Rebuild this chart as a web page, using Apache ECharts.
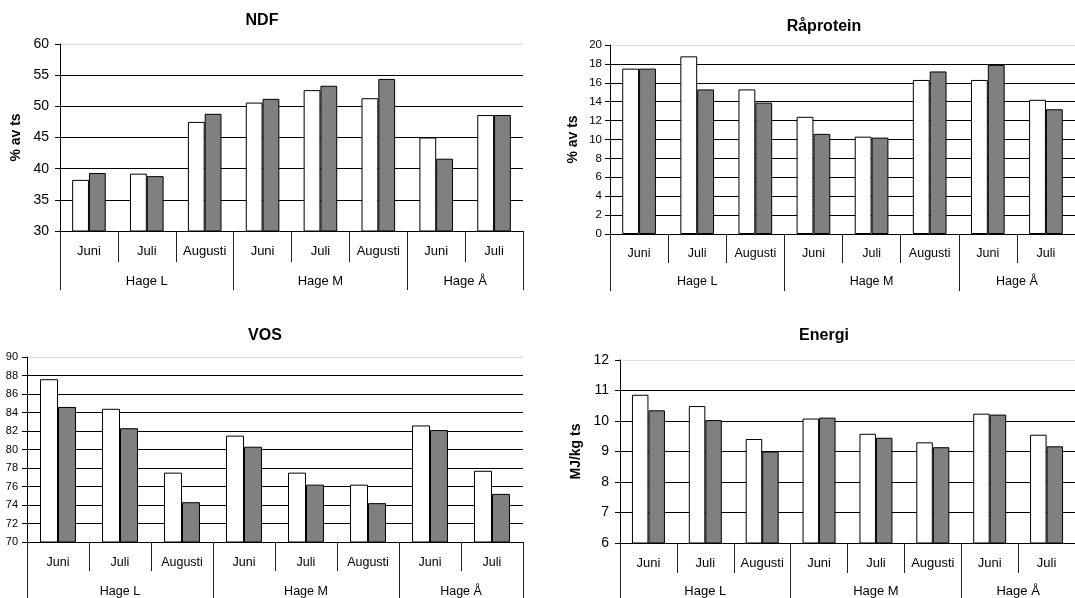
<!DOCTYPE html>
<html>
<head>
<meta charset="utf-8">
<script src="https://cdn.jsdelivr.net/npm/echarts@6/dist/echarts.min.js"></script>
<style>html,body{margin:0;padding:0;background:#fff}#c{width:1075px;height:598px}</style>
</head>
<body>
<div id="c"></div>
<script>
const categories = ['Juni', 'Juli', 'Augusti', 'Juni', 'Juli', 'Augusti', 'Juni', 'Juli'];
const groups = ['Hage L', 'Hage M', 'Hage Å'];
const groupSizes = [3, 3, 2];

const ndfWhite = [38.2, 39.2, 47.5, 50.6, 52.6, 51.3, 45.0, 48.6];
const ndfGrey  = [39.3, 38.8, 48.8, 51.2, 53.3, 54.4, 41.6, 48.6];
const ndfTicks = [30, 35, 40, 45, 50, 55, 60];

const raproteinWhite = [17.5, 18.8, 15.3, 12.4, 10.3, 16.3, 16.3, 14.2];
const raproteinGrey  = [17.5, 15.3, 13.9, 10.6, 10.2, 17.2, 17.9, 13.2];
const raproteinTicks = [0, 2, 4, 6, 8, 10, 12, 14, 16, 18, 20];

const vosWhite = [87.6, 84.4, 77.5, 81.5, 77.5, 76.2, 82.6, 77.7];
const vosGrey  = [84.6, 82.3, 74.3, 80.3, 76.2, 74.2, 82.1, 75.2];
const vosTicks = [70, 72, 74, 76, 78, 80, 82, 84, 86, 88, 90];

const energiWhite = [10.86, 10.49, 9.41, 10.08, 9.58, 9.30, 10.24, 9.55];
const energiGrey  = [10.35, 10.03, 9.00, 10.11, 9.45, 9.14, 10.21, 9.17];
const energiTicks = [6, 7, 8, 9, 10, 11, 12];

const FONT = '"Liberation Sans", Arial, sans-serif';

// group boundaries and centres derived from the group sizes
const groupBounds = [0];
groupSizes.forEach(s => groupBounds.push(groupBounds[groupBounds.length - 1] + s));
const groupCenters = groupSizes.map((s, i) => groupBounds[i] + s / 2);

const panels = [
  {title: 'NDF', tx: 262, ty: 21, grid: {left: 60, top: 44, width: 463, height: 187},
   ticks: ndfTicks, white: ndfWhite, grey: ndfGrey, name: '% av ts', nameGap: 37,
   yFont: 14, yMargin: 11, catFont: 13, catMargin: 14, grpMargin: 44, catTick: 31, grpTick: 59},
  {title: 'Råprotein', tx: 824, ty: 27, grid: {left: 610, top: 45, width: 474, height: 189},
   ticks: raproteinTicks, white: raproteinWhite, grey: raproteinGrey, name: '% av ts', nameGap: 30,
   yFont: 11.5, yMargin: 8, catFont: 12.5, catMargin: 13, grpMargin: 41, catTick: 29, grpTick: 57},
  {title: 'VOS', tx: 265, ty: 336, grid: {left: 27, top: 357, width: 496, height: 189},
   ticks: vosTicks, white: vosWhite, grey: vosGrey, name: '', nameGap: 30,
   yFont: 11, yMargin: 9, catFont: 12.5, catMargin: 14, grpMargin: 43, catTick: 29, grpTick: 60},
  {title: 'Energi', tx: 824, ty: 336, grid: {left: 620, top: 360, width: 464, height: 185},
   ticks: energiTicks, white: energiWhite, grey: energiGrey, name: 'MJ/kg ts', nameGap: 37,
   yFont: 14, yMargin: 11, catFont: 13, catMargin: 14, grpMargin: 42, catTick: 30, grpTick: 60}
];

const option = {
  animation: false,
  backgroundColor: '#fff',
  textStyle: {fontFamily: FONT},
  grid: [], xAxis: [], yAxis: [], series: [], graphic: []
};

panels.forEach((p, i) => {
  option.grid.push(Object.assign({containLabel: false}, p.grid));
  const t = p.ticks;
  option.xAxis.push({
    type: 'category', gridIndex: i, data: categories, position: 'bottom',
    axisLine: {show: true, lineStyle: {color: '#000', width: 1}},
    axisTick: {show: true, length: p.catTick, lineStyle: {color: '#222'}},
    axisLabel: {interval: 0, color: '#000', fontSize: p.catFont, margin: p.catMargin, fontFamily: FONT},
    splitLine: {show: false}
  });
  option.xAxis.push({
    type: 'value', gridIndex: i, min: 0, max: categories.length, position: 'bottom', offset: 0,
    axisLine: {show: false},
    axisTick: {show: true, length: p.grpTick, customValues: groupBounds, lineStyle: {color: '#222'}},
    axisLabel: {show: true, customValues: groupCenters, color: '#000', fontSize: p.catFont,
      margin: p.grpMargin, fontFamily: FONT,
      formatter: v => groups[groupCenters.indexOf(v)] || ''},
    splitLine: {show: false}
  });
  option.yAxis.push({
    type: 'value', gridIndex: i, min: t[0], max: t[t.length - 1], interval: t[1] - t[0],
    name: p.name, nameLocation: 'middle', nameGap: p.nameGap,
    nameTextStyle: {fontWeight: 'bold', fontSize: 14, color: '#000', fontFamily: FONT},
    axisLine: {show: true, lineStyle: {color: '#000', width: 1}},
    axisTick: {show: true, length: 5, lineStyle: {color: '#000'}},
    axisLabel: {color: '#000', fontSize: p.yFont, margin: p.yMargin, fontFamily: FONT},
    splitLine: {show: true, lineStyle: {width: 1,
      color: t.map((v, k) => k === t.length - 1 ? '#dcdcdc' : '#000')}}
  });
  const common = {type: 'bar', xAxisIndex: i * 2, yAxisIndex: i, barGap: '0%', barCategoryGap: '42%'};
  option.series.push(Object.assign({}, common, {
    name: p.title + ' A', data: p.white,
    itemStyle: {color: '#ffffff', borderColor: '#000', borderWidth: 1}
  }));
  option.series.push(Object.assign({}, common, {
    name: p.title + ' B', data: p.grey,
    itemStyle: {color: '#808080', borderColor: '#000', borderWidth: 1}
  }));
  option.graphic.push({
    type: 'text', x: p.tx, y: p.ty, silent: true,
    style: {text: p.title, font: 'bold 16px ' + FONT, fill: '#000', align: 'center', verticalAlign: 'middle'}
  });
});

const chart = echarts.init(document.getElementById('c'), null, {renderer: 'canvas'});
chart.setOption(option);
</script>
</body>
</html>
